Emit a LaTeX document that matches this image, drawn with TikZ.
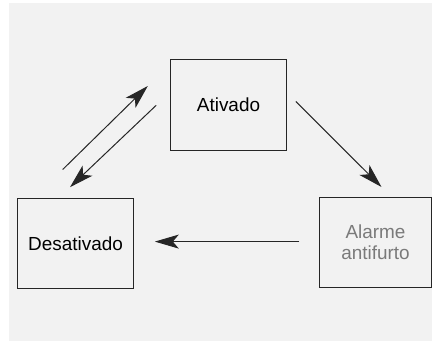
\documentclass[tikz,border=0pt]{standalone}
\usepackage{xcolor}
\usepackage{fontspec}
\setmainfont{Liberation Sans}
\usepackage{tikz}
\usetikzlibrary{arrows.meta, positioning, calc, backgrounds}
\definecolor{panelgray}{HTML}{F2F2F2}
\definecolor{inkdark}{HTML}{262626}
\definecolor{fadetext}{HTML}{7A7A7A}

\begin{document}
\begin{tikzpicture}[
    x=1bp, y=1bp,
    state/.style={rectangle, draw=inkdark, line width=1bp, fill=panelgray, minimum width=115bp, minimum height=90bp, align=center, inner sep=0pt, font=\fontsize{19}{21}\selectfont},
    arr/.style={-{Stealth[length=24bp, width=14bp, inset=6bp]}, line width=1bp, draw=inkdark},
]
    % Canvas
    \useasboundingbox (0,0) rectangle (432,342);
    \fill[white] (0,0) rectangle (432,342);
    \fill[panelgray] (9,1) rectangle (432,339);

    \node[state] (ativado) at (228.5,237) {Ativado};
    \node[state, minimum height=89bp] (desativado) at (75.5,98.5) {Desativado};
    \node[state, minimum width=111bp, text=fadetext] (alarme) at (375.5,99.7) {Alarme\\antifurto};

    \draw[arr] ([shift={(-12.8,29)}]desativado.north) -- ([shift={(-22.7,19)}]ativado.west);
    \draw[arr] ([shift={(-14.3,-0.3)}]ativado.west) -- ([shift={(-5.5,11.3)}]desativado.north);
    \draw[arr] ([shift={(9.3,3.5)}]ativado.east) -- ([shift={(6,9.8)}]alarme.north);
    \draw[arr] ([shift={(-20,0.7)}]alarme.west) -- ([shift={(21.3,0.7)}]alarme.west -| desativado.east);
\end{tikzpicture}
\end{document}
